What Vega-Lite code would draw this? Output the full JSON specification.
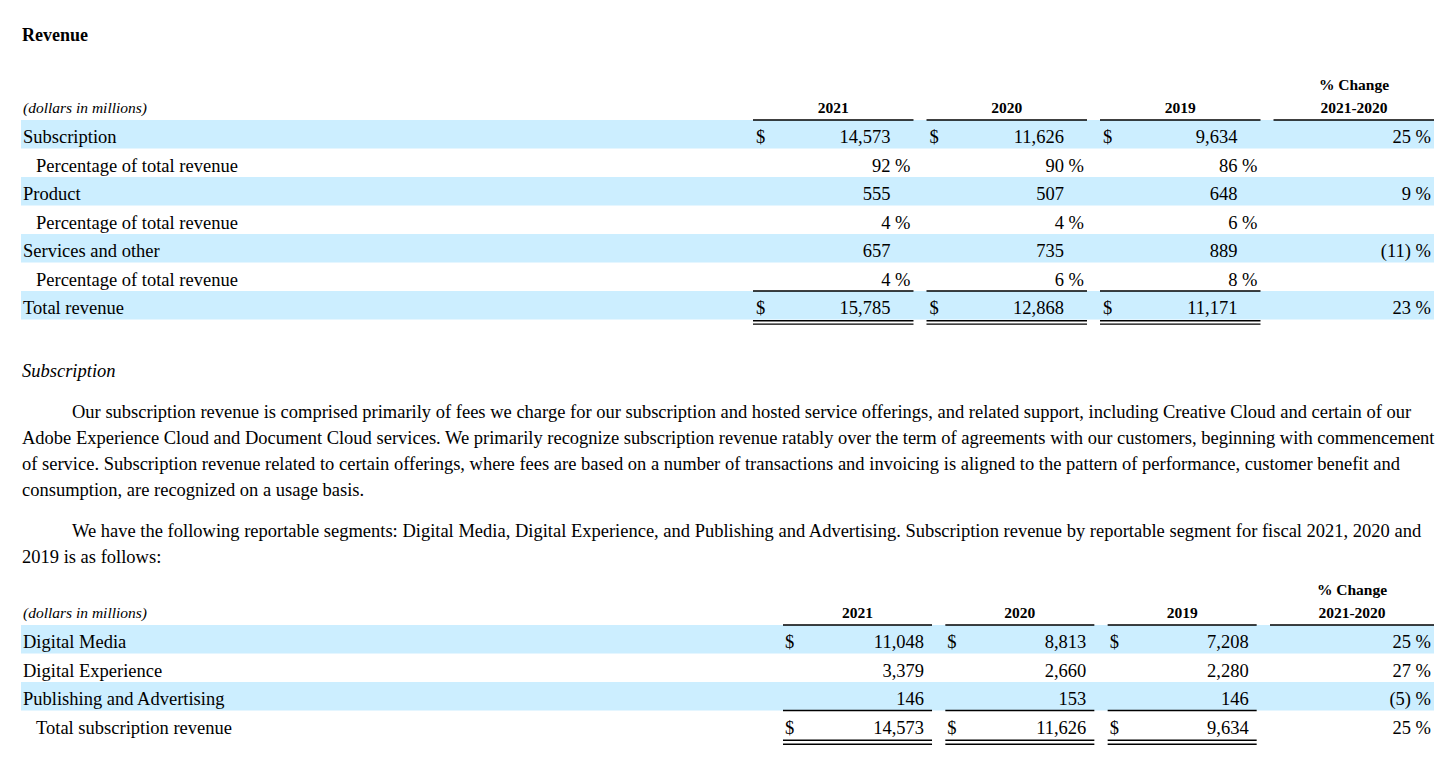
{
  "$schema": "https://vega.github.io/schema/vega-lite/v6.json",
  "background": "white",
  "padding": {"left": 21, "top": 0, "right": 0, "bottom": 0},
  "autosize": {"type": "pad"},
  "bounds": "flush",
  "spacing": 0,
  "config": {
    "view": {"stroke": null},
    "text": {"font": "Liberation Serif", "fontSize": 18.5, "color": "#000000"},
    "rule": {"color": "#000000"}
  },
  "datasets": {
    "prose": [
      {"block": "title", "line": 1, "text": "Revenue"},
      {"block": "heading", "line": 1, "text": "Subscription"},
      {"block": "p1", "line": 1, "text": "Our subscription revenue is comprised primarily of fees we charge for our subscription and hosted service offerings, and related support, including Creative Cloud and certain of our"},
      {"block": "p1", "line": 2, "text": "Adobe Experience Cloud and Document Cloud services. We primarily recognize subscription revenue ratably over the term of agreements with our customers, beginning with commencement"},
      {"block": "p1", "line": 3, "text": "of service. Subscription revenue related to certain offerings, where fees are based on a number of transactions and invoicing is aligned to the pattern of performance, customer benefit and"},
      {"block": "p1", "line": 4, "text": "consumption, are recognized on a usage basis."},
      {"block": "p2", "line": 1, "text": "We have the following reportable segments: Digital Media, Digital Experience, and Publishing and Advertising. Subscription revenue by reportable segment for fiscal 2021, 2020 and"},
      {"block": "p2", "line": 2, "text": "2019 is as follows:"}
    ],
    "header": [
      {"row": -1, "col": "chg", "text": "% Change"},
      {"row": 0, "col": "label", "text": "(dollars in millions)"},
      {"row": 0, "col": "2021", "text": "2021"},
      {"row": 0, "col": "2020", "text": "2020"},
      {"row": 0, "col": "2019", "text": "2019"},
      {"row": 0, "col": "chg", "text": "2021-2020"}
    ],
    "revenue": [
      {"row": 1, "label": "Subscription", "level": 0, "unit": "usd", "total": false, "2021": 14573, "2020": 11626, "2019": 9634, "change": 25},
      {"row": 2, "label": "Percentage of total revenue", "level": 1, "unit": "pct", "total": false, "2021": 92, "2020": 90, "2019": 86, "change": null},
      {"row": 3, "label": "Product", "level": 0, "unit": "usd", "total": false, "2021": 555, "2020": 507, "2019": 648, "change": 9},
      {"row": 4, "label": "Percentage of total revenue", "level": 1, "unit": "pct", "total": false, "2021": 4, "2020": 4, "2019": 6, "change": null},
      {"row": 5, "label": "Services and other", "level": 0, "unit": "usd", "total": false, "2021": 657, "2020": 735, "2019": 889, "change": -11},
      {"row": 6, "label": "Percentage of total revenue", "level": 1, "unit": "pct", "total": false, "2021": 4, "2020": 6, "2019": 8, "change": null},
      {"row": 7, "label": "Total revenue", "level": 0, "unit": "usd", "total": true, "2021": 15785, "2020": 12868, "2019": 11171, "change": 23}
    ],
    "subscription": [
      {"row": 1, "label": "Digital Media", "level": 0, "unit": "usd", "total": false, "2021": 11048, "2020": 8813, "2019": 7208, "change": 25},
      {"row": 2, "label": "Digital Experience", "level": 0, "unit": "usd", "total": false, "2021": 3379, "2020": 2660, "2019": 2280, "change": 27},
      {"row": 3, "label": "Publishing and Advertising", "level": 0, "unit": "usd", "total": false, "2021": 146, "2020": 153, "2019": 146, "change": -5},
      {"row": 4, "label": "Total subscription revenue", "level": 1, "unit": "usd", "total": true, "2021": 14573, "2020": 11626, "2019": 9634, "change": 25}
    ]
  },
  "vconcat": [
    {
      "width": 1413, "height": 63,
      "data": {"name": "prose"},
      "transform": [{"filter": "datum.block == 'title'"}],
      "mark": {"type": "text", "align": "left", "baseline": "middle", "fontWeight": "bold", "fontSize": 18, "dx": 1, "dy": 4.5},
      "encoding": {"x": {"value": 0}, "text": {"field": "text", "type": "nominal"}}
    },
    {
      "width": 1413, "height": 256.5,
      "layer": [
        {
          "data": {"name": "revenue"},
          "transform": [{"filter": "datum.row % 2 == 1"}],
          "mark": {"type": "rect", "color": "#cceeff"},
          "encoding": {
            "x": {"value": 0}, "x2": {"value": "width"},
            "y": {"field": "row", "type": "ordinal", "scale": {"type": "band", "domain": [-1, 0, 1, 2, 3, 4, 5, 6, 7], "paddingInner": 0, "paddingOuter": 0}, "axis": null}
          }
        },
        {
          "data": {"name": "revenue"},
          "transform": [{"filter": "datum.level == 0"}],
          "mark": {"type": "text", "align": "left", "baseline": "middle", "dx": 2, "dy": 3},
          "encoding": {
            "x": {"value": 0},
            "y": {"field": "row", "type": "ordinal", "scale": {"type": "band", "domain": [-1, 0, 1, 2, 3, 4, 5, 6, 7], "paddingInner": 0, "paddingOuter": 0}, "axis": null},
            "text": {"field": "label", "type": "nominal"}
          }
        },
        {
          "data": {"name": "revenue"},
          "transform": [{"filter": "datum.level == 1"}],
          "mark": {"type": "text", "align": "left", "baseline": "middle", "dx": 15, "dy": 3},
          "encoding": {
            "x": {"value": 0},
            "y": {"field": "row", "type": "ordinal", "scale": {"type": "band", "domain": [-1, 0, 1, 2, 3, 4, 5, 6, 7], "paddingInner": 0, "paddingOuter": 0}, "axis": null},
            "text": {"field": "label", "type": "nominal"}
          }
        },
        {
          "data": {"name": "header"},
          "transform": [{"filter": "datum.col == 'label'"}],
          "mark": {"type": "text", "align": "left", "baseline": "middle", "fontStyle": "italic", "fontSize": 15.5, "dx": 2, "dy": 2.25},
          "encoding": {
            "x": {"value": 0},
            "y": {"field": "row", "type": "ordinal", "scale": {"type": "band", "domain": [-1, 0, 1, 2, 3, 4, 5, 6, 7], "paddingInner": 0, "paddingOuter": 0}, "axis": null},
            "text": {"field": "text", "type": "nominal"}
          }
        },
        {
          "data": {"name": "header"},
          "transform": [{"filter": "datum.col != 'label' && datum.col != 'chg'"}],
          "mark": {"type": "text", "align": "center", "baseline": "middle", "fontWeight": "bold", "fontSize": 15.5, "dy": 2.25},
          "encoding": {
            "x": {"field": "col", "type": "nominal", "scale": {"type": "band", "domain": ["2021", "2020", "2019", "chg"], "range": [732, 1413], "paddingInner": 0.075, "paddingOuter": 0}, "axis": null},
            "y": {"field": "row", "type": "ordinal", "scale": {"type": "band", "domain": [-1, 0, 1, 2, 3, 4, 5, 6, 7], "paddingInner": 0, "paddingOuter": 0}, "axis": null},
            "text": {"field": "text", "type": "nominal"}
          }
        },
        {
          "data": {"name": "header"},
          "transform": [{"filter": "datum.col == 'chg' && datum.row == -1"}],
          "mark": {"type": "text", "align": "center", "baseline": "middle", "fontWeight": "bold", "fontSize": 15.5, "dx": -80, "dy": 7.75},
          "encoding": {
            "x": {"value": "width"},
            "y": {"field": "row", "type": "ordinal", "scale": {"type": "band", "domain": [-1, 0, 1, 2, 3, 4, 5, 6, 7], "paddingInner": 0, "paddingOuter": 0}, "axis": null},
            "text": {"field": "text", "type": "nominal"}
          }
        },
        {
          "data": {"name": "header"},
          "transform": [{"filter": "datum.col == 'chg' && datum.row == 0"}],
          "mark": {"type": "text", "align": "center", "baseline": "middle", "fontWeight": "bold", "fontSize": 15.5, "dx": -80, "dy": 2.25},
          "encoding": {
            "x": {"value": "width"},
            "y": {"field": "row", "type": "ordinal", "scale": {"type": "band", "domain": [-1, 0, 1, 2, 3, 4, 5, 6, 7], "paddingInner": 0, "paddingOuter": 0}, "axis": null},
            "text": {"field": "text", "type": "nominal"}
          }
        },
        {
          "data": {"name": "header"},
          "transform": [{"filter": "datum.row == 0 && datum.col != 'label' && datum.col != 'chg'"}],
          "mark": {"type": "rule", "strokeWidth": 1.4},
          "encoding": {
            "x": {"field": "col", "type": "nominal", "bandPosition": 0, "scale": {"type": "band", "domain": ["2021", "2020", "2019", "chg"], "range": [732, 1413], "paddingInner": 0.075, "paddingOuter": 0}, "axis": null},
            "x2": {"field": "col", "bandPosition": 1},
            "y": {"field": "row", "type": "ordinal", "bandPosition": 1, "scale": {"type": "band", "domain": [-1, 0, 1, 2, 3, 4, 5, 6, 7], "paddingInner": 0, "paddingOuter": 0}, "axis": null}
          }
        },
        {
          "data": {"name": "header"},
          "transform": [{"filter": "datum.row == 0 && datum.col == 'chg'"}],
          "mark": {"type": "rule", "strokeWidth": 1.4},
          "encoding": {
            "x": {"field": "col", "type": "nominal", "bandPosition": 0, "scale": {"type": "band", "domain": ["2021", "2020", "2019", "chg"], "range": [732, 1413], "paddingInner": 0.075, "paddingOuter": 0}, "axis": null},
            "x2": {"value": "width"},
            "y": {"field": "row", "type": "ordinal", "bandPosition": 1, "scale": {"type": "band", "domain": [-1, 0, 1, 2, 3, 4, 5, 6, 7], "paddingInner": 0, "paddingOuter": 0}, "axis": null}
          }
        },
        {
          "data": {"name": "revenue"},
          "transform": [{"fold": ["2021", "2020", "2019"], "as": ["year", "value"]}],
          "mark": {"type": "text", "align": "right", "baseline": "middle", "dx": -23, "dy": 3},
          "encoding": {
            "x": {"field": "year", "type": "nominal", "bandPosition": 1, "scale": {"type": "band", "domain": ["2021", "2020", "2019", "chg"], "range": [732, 1413], "paddingInner": 0.075, "paddingOuter": 0}, "axis": null},
            "y": {"field": "row", "type": "ordinal", "scale": {"type": "band", "domain": [-1, 0, 1, 2, 3, 4, 5, 6, 7], "paddingInner": 0, "paddingOuter": 0}, "axis": null},
            "text": {"field": "value", "type": "quantitative", "format": ","}
          }
        },
        {
          "data": {"name": "revenue"},
          "transform": [{"fold": ["2021", "2020", "2019"], "as": ["year", "value"]}, {"filter": "datum.row == 1 || datum.total"}],
          "mark": {"type": "text", "align": "left", "baseline": "middle", "dx": 3, "dy": 3},
          "encoding": {
            "x": {"field": "year", "type": "nominal", "bandPosition": 0, "scale": {"type": "band", "domain": ["2021", "2020", "2019", "chg"], "range": [732, 1413], "paddingInner": 0.075, "paddingOuter": 0}, "axis": null},
            "y": {"field": "row", "type": "ordinal", "scale": {"type": "band", "domain": [-1, 0, 1, 2, 3, 4, 5, 6, 7], "paddingInner": 0, "paddingOuter": 0}, "axis": null},
            "text": {"value": "$"}
          }
        },
        {
          "data": {"name": "revenue"},
          "transform": [{"fold": ["2021", "2020", "2019"], "as": ["year", "value"]}, {"filter": "datum.unit == 'pct'"}],
          "mark": {"type": "text", "align": "left", "baseline": "middle", "dx": -18.5, "dy": 3},
          "encoding": {
            "x": {"field": "year", "type": "nominal", "bandPosition": 1, "scale": {"type": "band", "domain": ["2021", "2020", "2019", "chg"], "range": [732, 1413], "paddingInner": 0.075, "paddingOuter": 0}, "axis": null},
            "y": {"field": "row", "type": "ordinal", "scale": {"type": "band", "domain": [-1, 0, 1, 2, 3, 4, 5, 6, 7], "paddingInner": 0, "paddingOuter": 0}, "axis": null},
            "text": {"value": "%"}
          }
        },
        {
          "data": {"name": "revenue"},
          "transform": [{"filter": "datum.change != null"}],
          "mark": {"type": "text", "align": "right", "baseline": "middle", "dx": -23, "dy": 3},
          "encoding": {
            "x": {"value": "width"},
            "y": {"field": "row", "type": "ordinal", "scale": {"type": "band", "domain": [-1, 0, 1, 2, 3, 4, 5, 6, 7], "paddingInner": 0, "paddingOuter": 0}, "axis": null},
            "text": {"field": "change", "type": "quantitative", "format": "(,d"}
          }
        },
        {
          "data": {"name": "revenue"},
          "transform": [{"filter": "datum.change != null"}],
          "mark": {"type": "text", "align": "left", "baseline": "middle", "dx": -18.5, "dy": 3},
          "encoding": {
            "x": {"value": "width"},
            "y": {"field": "row", "type": "ordinal", "scale": {"type": "band", "domain": [-1, 0, 1, 2, 3, 4, 5, 6, 7], "paddingInner": 0, "paddingOuter": 0}, "axis": null},
            "text": {"value": "%"}
          }
        },
        {
          "data": {"name": "revenue"},
          "transform": [{"fold": ["2021", "2020", "2019"], "as": ["year", "value"]}, {"filter": "datum.total"}],
          "mark": {"type": "rule", "strokeWidth": 1.3},
          "encoding": {
            "x": {"field": "year", "type": "nominal", "bandPosition": 0, "scale": {"type": "band", "domain": ["2021", "2020", "2019", "chg"], "range": [732, 1413], "paddingInner": 0.075, "paddingOuter": 0}, "axis": null},
            "x2": {"field": "year", "bandPosition": 1},
            "y": {"field": "row", "type": "ordinal", "bandPosition": 0, "scale": {"type": "band", "domain": [-1, 0, 1, 2, 3, 4, 5, 6, 7], "paddingInner": 0, "paddingOuter": 0}, "axis": null}
          }
        },
        {
          "data": {"name": "revenue"},
          "transform": [{"fold": ["2021", "2020", "2019"], "as": ["year", "value"]}, {"filter": "datum.total"}],
          "mark": {"type": "rule", "strokeWidth": 1.4, "yOffset": 1.2},
          "encoding": {
            "x": {"field": "year", "type": "nominal", "bandPosition": 0, "scale": {"type": "band", "domain": ["2021", "2020", "2019", "chg"], "range": [732, 1413], "paddingInner": 0.075, "paddingOuter": 0}, "axis": null},
            "x2": {"field": "year", "bandPosition": 1},
            "y": {"field": "row", "type": "ordinal", "bandPosition": 1, "scale": {"type": "band", "domain": [-1, 0, 1, 2, 3, 4, 5, 6, 7], "paddingInner": 0, "paddingOuter": 0}, "axis": null}
          }
        },
        {
          "data": {"name": "revenue"},
          "transform": [{"fold": ["2021", "2020", "2019"], "as": ["year", "value"]}, {"filter": "datum.total"}],
          "mark": {"type": "rule", "strokeWidth": 1.4, "yOffset": 4.6},
          "encoding": {
            "x": {"field": "year", "type": "nominal", "bandPosition": 0, "scale": {"type": "band", "domain": ["2021", "2020", "2019", "chg"], "range": [732, 1413], "paddingInner": 0.075, "paddingOuter": 0}, "axis": null},
            "x2": {"field": "year", "bandPosition": 1},
            "y": {"field": "row", "type": "ordinal", "bandPosition": 1, "scale": {"type": "band", "domain": [-1, 0, 1, 2, 3, 4, 5, 6, 7], "paddingInner": 0, "paddingOuter": 0}, "axis": null}
          }
        }
      ]
    },
    {
      "width": 1413, "height": 79,
      "data": {"name": "prose"},
      "transform": [{"filter": "datum.block == 'heading'"}],
      "mark": {"type": "text", "align": "left", "baseline": "middle", "fontStyle": "italic", "fontSize": 18.5, "dx": 1, "dy": 11},
      "encoding": {"x": {"value": 0}, "text": {"field": "text", "type": "nominal"}}
    },
    {
      "width": 1413, "height": 104,
      "data": {"name": "prose"},
      "transform": [{"filter": "datum.block == 'p1'"}],
      "encoding": {
        "x": {"value": 0},
        "y": {"field": "line", "type": "ordinal", "scale": {"type": "band", "domain": [1, 2, 3, 4], "paddingInner": 0, "paddingOuter": 0}, "axis": null},
        "text": {"field": "text", "type": "nominal"}
      },
      "layer": [
        {"transform": [{"filter": "datum.line == 1"}], "mark": {"type": "text", "align": "left", "baseline": "middle", "dx": 51}},
        {"transform": [{"filter": "datum.line > 1"}], "mark": {"type": "text", "align": "left", "baseline": "middle", "dx": 1}}
      ]
    },
    {
      "width": 1413, "height": 64.5,
      "data": {"name": "prose"},
      "transform": [{"filter": "datum.block == 'p2'"}],
      "encoding": {
        "x": {"value": 0},
        "y": {"field": "line", "type": "ordinal", "scale": {"type": "band", "domain": [1, 2], "paddingInner": 0, "paddingOuter": 0.24, "align": 1}, "axis": null},
        "text": {"field": "text", "type": "nominal"}
      },
      "layer": [
        {"transform": [{"filter": "datum.line == 1"}], "mark": {"type": "text", "align": "left", "baseline": "middle", "dx": 51, "dy": 3}},
        {"transform": [{"filter": "datum.line > 1"}], "mark": {"type": "text", "align": "left", "baseline": "middle", "dx": 1, "dy": 3}}
      ]
    },
    {
      "width": 1413, "height": 171,
      "layer": [
        {
          "data": {"name": "subscription"},
          "transform": [{"filter": "datum.row % 2 == 1"}],
          "mark": {"type": "rect", "color": "#cceeff"},
          "encoding": {
            "x": {"value": 0}, "x2": {"value": "width"},
            "y": {"field": "row", "type": "ordinal", "scale": {"type": "band", "domain": [-1, 0, 1, 2, 3, 4], "paddingInner": 0, "paddingOuter": 0}, "axis": null}
          }
        },
        {
          "data": {"name": "subscription"},
          "transform": [{"filter": "datum.level == 0"}],
          "mark": {"type": "text", "align": "left", "baseline": "middle", "dx": 2, "dy": 3},
          "encoding": {
            "x": {"value": 0},
            "y": {"field": "row", "type": "ordinal", "scale": {"type": "band", "domain": [-1, 0, 1, 2, 3, 4], "paddingInner": 0, "paddingOuter": 0}, "axis": null},
            "text": {"field": "label", "type": "nominal"}
          }
        },
        {
          "data": {"name": "subscription"},
          "transform": [{"filter": "datum.level == 1"}],
          "mark": {"type": "text", "align": "left", "baseline": "middle", "dx": 15, "dy": 3},
          "encoding": {
            "x": {"value": 0},
            "y": {"field": "row", "type": "ordinal", "scale": {"type": "band", "domain": [-1, 0, 1, 2, 3, 4], "paddingInner": 0, "paddingOuter": 0}, "axis": null},
            "text": {"field": "label", "type": "nominal"}
          }
        },
        {
          "data": {"name": "header"},
          "transform": [{"filter": "datum.col == 'label'"}],
          "mark": {"type": "text", "align": "left", "baseline": "middle", "fontStyle": "italic", "fontSize": 15.5, "dx": 2, "dy": 2.25},
          "encoding": {
            "x": {"value": 0},
            "y": {"field": "row", "type": "ordinal", "scale": {"type": "band", "domain": [-1, 0, 1, 2, 3, 4], "paddingInner": 0, "paddingOuter": 0}, "axis": null},
            "text": {"field": "text", "type": "nominal"}
          }
        },
        {
          "data": {"name": "header"},
          "transform": [{"filter": "datum.col != 'label' && datum.col != 'chg'"}],
          "mark": {"type": "text", "align": "center", "baseline": "middle", "fontWeight": "bold", "fontSize": 15.5, "dy": 2.25},
          "encoding": {
            "x": {"field": "col", "type": "nominal", "scale": {"type": "band", "domain": ["2021", "2020", "2019", "chg"], "range": [762, 1398], "paddingInner": 0.082, "paddingOuter": 0}, "axis": null},
            "y": {"field": "row", "type": "ordinal", "scale": {"type": "band", "domain": [-1, 0, 1, 2, 3, 4], "paddingInner": 0, "paddingOuter": 0}, "axis": null},
            "text": {"field": "text", "type": "nominal"}
          }
        },
        {
          "data": {"name": "header"},
          "transform": [{"filter": "datum.col == 'chg' && datum.row == -1"}],
          "mark": {"type": "text", "align": "center", "baseline": "middle", "fontWeight": "bold", "fontSize": 15.5, "dx": -82, "dy": 7.75},
          "encoding": {
            "x": {"value": "width"},
            "y": {"field": "row", "type": "ordinal", "scale": {"type": "band", "domain": [-1, 0, 1, 2, 3, 4], "paddingInner": 0, "paddingOuter": 0}, "axis": null},
            "text": {"field": "text", "type": "nominal"}
          }
        },
        {
          "data": {"name": "header"},
          "transform": [{"filter": "datum.col == 'chg' && datum.row == 0"}],
          "mark": {"type": "text", "align": "center", "baseline": "middle", "fontWeight": "bold", "fontSize": 15.5, "dx": -82, "dy": 2.25},
          "encoding": {
            "x": {"value": "width"},
            "y": {"field": "row", "type": "ordinal", "scale": {"type": "band", "domain": [-1, 0, 1, 2, 3, 4], "paddingInner": 0, "paddingOuter": 0}, "axis": null},
            "text": {"field": "text", "type": "nominal"}
          }
        },
        {
          "data": {"name": "header"},
          "transform": [{"filter": "datum.row == 0 && datum.col != 'label' && datum.col != 'chg'"}],
          "mark": {"type": "rule", "strokeWidth": 1.4},
          "encoding": {
            "x": {"field": "col", "type": "nominal", "bandPosition": 0, "scale": {"type": "band", "domain": ["2021", "2020", "2019", "chg"], "range": [762, 1398], "paddingInner": 0.082, "paddingOuter": 0}, "axis": null},
            "x2": {"field": "col", "bandPosition": 1},
            "y": {"field": "row", "type": "ordinal", "bandPosition": 1, "scale": {"type": "band", "domain": [-1, 0, 1, 2, 3, 4], "paddingInner": 0, "paddingOuter": 0}, "axis": null}
          }
        },
        {
          "data": {"name": "header"},
          "transform": [{"filter": "datum.row == 0 && datum.col == 'chg'"}],
          "mark": {"type": "rule", "strokeWidth": 1.4},
          "encoding": {
            "x": {"field": "col", "type": "nominal", "bandPosition": 0, "scale": {"type": "band", "domain": ["2021", "2020", "2019", "chg"], "range": [762, 1398], "paddingInner": 0.082, "paddingOuter": 0}, "axis": null},
            "x2": {"value": "width"},
            "y": {"field": "row", "type": "ordinal", "bandPosition": 1, "scale": {"type": "band", "domain": [-1, 0, 1, 2, 3, 4], "paddingInner": 0, "paddingOuter": 0}, "axis": null}
          }
        },
        {
          "data": {"name": "subscription"},
          "transform": [{"fold": ["2021", "2020", "2019"], "as": ["year", "value"]}],
          "mark": {"type": "text", "align": "right", "baseline": "middle", "dx": -8, "dy": 3},
          "encoding": {
            "x": {"field": "year", "type": "nominal", "bandPosition": 1, "scale": {"type": "band", "domain": ["2021", "2020", "2019", "chg"], "range": [762, 1398], "paddingInner": 0.082, "paddingOuter": 0}, "axis": null},
            "y": {"field": "row", "type": "ordinal", "scale": {"type": "band", "domain": [-1, 0, 1, 2, 3, 4], "paddingInner": 0, "paddingOuter": 0}, "axis": null},
            "text": {"field": "value", "type": "quantitative", "format": ","}
          }
        },
        {
          "data": {"name": "subscription"},
          "transform": [{"fold": ["2021", "2020", "2019"], "as": ["year", "value"]}, {"filter": "datum.row == 1 || datum.total"}],
          "mark": {"type": "text", "align": "left", "baseline": "middle", "dx": 2, "dy": 3},
          "encoding": {
            "x": {"field": "year", "type": "nominal", "bandPosition": 0, "scale": {"type": "band", "domain": ["2021", "2020", "2019", "chg"], "range": [762, 1398], "paddingInner": 0.082, "paddingOuter": 0}, "axis": null},
            "y": {"field": "row", "type": "ordinal", "scale": {"type": "band", "domain": [-1, 0, 1, 2, 3, 4], "paddingInner": 0, "paddingOuter": 0}, "axis": null},
            "text": {"value": "$"}
          }
        },
        {
          "data": {"name": "subscription"},
          "transform": [{"filter": "datum.change != null"}],
          "mark": {"type": "text", "align": "right", "baseline": "middle", "dx": -23, "dy": 3},
          "encoding": {
            "x": {"value": "width"},
            "y": {"field": "row", "type": "ordinal", "scale": {"type": "band", "domain": [-1, 0, 1, 2, 3, 4], "paddingInner": 0, "paddingOuter": 0}, "axis": null},
            "text": {"field": "change", "type": "quantitative", "format": "(,d"}
          }
        },
        {
          "data": {"name": "subscription"},
          "transform": [{"filter": "datum.change != null"}],
          "mark": {"type": "text", "align": "left", "baseline": "middle", "dx": -18.5, "dy": 3},
          "encoding": {
            "x": {"value": "width"},
            "y": {"field": "row", "type": "ordinal", "scale": {"type": "band", "domain": [-1, 0, 1, 2, 3, 4], "paddingInner": 0, "paddingOuter": 0}, "axis": null},
            "text": {"value": "%"}
          }
        },
        {
          "data": {"name": "subscription"},
          "transform": [{"fold": ["2021", "2020", "2019"], "as": ["year", "value"]}, {"filter": "datum.total"}],
          "mark": {"type": "rule", "strokeWidth": 1.3},
          "encoding": {
            "x": {"field": "year", "type": "nominal", "bandPosition": 0, "scale": {"type": "band", "domain": ["2021", "2020", "2019", "chg"], "range": [762, 1398], "paddingInner": 0.082, "paddingOuter": 0}, "axis": null},
            "x2": {"field": "year", "bandPosition": 1},
            "y": {"field": "row", "type": "ordinal", "bandPosition": 0, "scale": {"type": "band", "domain": [-1, 0, 1, 2, 3, 4], "paddingInner": 0, "paddingOuter": 0}, "axis": null}
          }
        },
        {
          "data": {"name": "subscription"},
          "transform": [{"fold": ["2021", "2020", "2019"], "as": ["year", "value"]}, {"filter": "datum.total"}],
          "mark": {"type": "rule", "strokeWidth": 1.4, "yOffset": 1.3},
          "encoding": {
            "x": {"field": "year", "type": "nominal", "bandPosition": 0, "scale": {"type": "band", "domain": ["2021", "2020", "2019", "chg"], "range": [762, 1398], "paddingInner": 0.082, "paddingOuter": 0}, "axis": null},
            "x2": {"field": "year", "bandPosition": 1},
            "y": {"field": "row", "type": "ordinal", "bandPosition": 1, "scale": {"type": "band", "domain": [-1, 0, 1, 2, 3, 4], "paddingInner": 0, "paddingOuter": 0}, "axis": null}
          }
        },
        {
          "data": {"name": "subscription"},
          "transform": [{"fold": ["2021", "2020", "2019"], "as": ["year", "value"]}, {"filter": "datum.total"}],
          "mark": {"type": "rule", "strokeWidth": 1.4, "yOffset": 5.3},
          "encoding": {
            "x": {"field": "year", "type": "nominal", "bandPosition": 0, "scale": {"type": "band", "domain": ["2021", "2020", "2019", "chg"], "range": [762, 1398], "paddingInner": 0.082, "paddingOuter": 0}, "axis": null},
            "x2": {"field": "year", "bandPosition": 1},
            "y": {"field": "row", "type": "ordinal", "bandPosition": 1, "scale": {"type": "band", "domain": [-1, 0, 1, 2, 3, 4], "paddingInner": 0, "paddingOuter": 0}, "axis": null}
          }
        }
      ]
    }
  ]
}
